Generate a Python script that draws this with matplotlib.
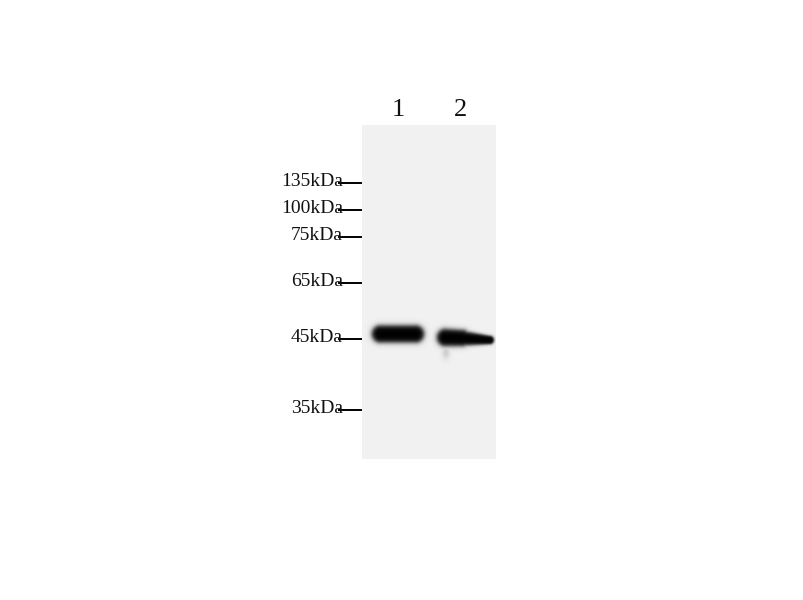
import numpy as np
import matplotlib
matplotlib.use("Agg")
import matplotlib.pyplot as plt

# marker ladder (label, y pixel on the blot)
marker_labels = ["135kDa", "100kDa", "75kDa", "65kDa", "45kDa", "35kDa"]
marker_y = [183, 210, 237, 283, 339, 410]

# lanes
lane_labels = ["1", "2"]
lane_x = [398, 461]

# band pieces: x start/end, y centre at start/end, half height at start/end
band_x0 = [372, 437, 452]
band_x1 = [424, 470, 494]
band_y0 = [334.0, 337.5, 338.0]
band_y1 = [334.0, 338.0, 340.0]
band_h0 = [8.5, 8.5, 7.5]
band_h1 = [8.5, 8.0, 4.2]

membrane = (362, 496, 125, 459)  # left, right, top, bottom
bg_gray = 0.945

fig = plt.figure(figsize=(8.04, 6.0), dpi=100)
ax = fig.add_axes([0, 0, 1, 1])
ax.set_xlim(0, 804)
ax.set_ylim(600, 0)
ax.axis("off")

# membrane image, supersampled for smooth band edges
l, r, t, b = membrane
xs = np.arange(l, r, 0.5) + 0.25
ys = np.arange(t, b, 0.5) + 0.25
X, Y = np.meshgrid(xs, ys)
dark = np.zeros_like(X)
for x0, x1, y0, y1, h0, h1 in zip(band_x0, band_x1, band_y0, band_y1,
                                  band_h0, band_h1):
    # tapered capsule with soft edge
    xa, xb = x0 + h0, x1 - h1
    tt = np.clip((X - xa) / (xb - xa), 0, 1)
    xc = xa + (xb - xa) * tt
    yc = y0 + (y1 - y0) * tt
    h = h0 + (h1 - h0) * tt
    d = np.sqrt((X - xc) ** 2 + (Y - yc) ** 2) / h
    dark = np.maximum(dark, 1 / (1 + np.exp((d - 1.0) * 6)))
# faint smear below lane 2
rr = ((X - 446) / 4) ** 2 + ((Y - 352) / 7) ** 2
dark = np.maximum(dark, 0.15 * np.exp(-rr))
img = bg_gray * (1 - dark)
ax.imshow(img, cmap="gray", vmin=0, vmax=1, extent=(l, r, b, t),
          interpolation="bilinear", zorder=1)

# markers
for lab, y in zip(marker_labels, marker_y):
    ax.plot([339, 361], [y, y], color="black", lw=1.4, zorder=2)
    ax.text(343, y + 3, lab, ha="right", va="baseline", fontsize=14,
            family="Liberation Serif", color="#111111")

for lab, x in zip(lane_labels, lane_x):
    ax.text(x, 116, lab, ha="center", va="baseline", fontsize=19,
            family="Liberation Serif", color="#111111")

plt.savefig("out.png", dpi=100)
